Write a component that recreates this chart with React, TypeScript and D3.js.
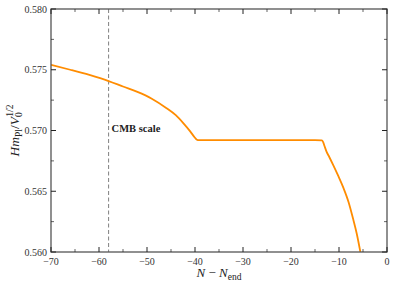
import * as d3 from "d3";
import { useEffect, useRef } from "react";

// values
const nValues = [-70, -66, -62, -58, -55, -52, -49, -46, -44, -42.4, -41, -40.2, -39.6, -39.2, -35, -30, -25, -20, -15, -13.6, -13.3, -13.0, -12.6, -12.0, -11.2, -10.2, -9.1, -8.0, -7.0, -6.3, -5.5];
const hValues = [0.57540, 0.57500, 0.57457, 0.57407, 0.57362, 0.57318, 0.57262, 0.57186, 0.57126, 0.57059, 0.56993, 0.56950, 0.56924, 0.56920, 0.56920, 0.56920, 0.56920, 0.56920, 0.56920, 0.56918, 0.56905, 0.56870, 0.56826, 0.56780, 0.56715, 0.56630, 0.56530, 0.56410, 0.56263, 0.56150, 0.55990];

const xTicks = [-70, -60, -50, -40, -30, -20, -10, 0];
const yTicks = [0.560, 0.565, 0.570, 0.575, 0.580];
const cmbN = -58;
const cmbLabel = "CMB scale";

const width = 395;
const height = 286;
const margin = { top: 9, right: 8, bottom: 34, left: 51 };

export default function App() {
    const ref = useRef<SVGSVGElement>(null);

    useEffect(() => {
        const svg = d3.select(ref.current);
        svg.selectAll("*").remove();

        const x = d3.scaleLinear().domain([-70, 0]).range([margin.left, width - margin.right]);
        const y = d3.scaleLinear().domain([0.56, 0.58]).range([height - margin.bottom, margin.top]);
        const font = "'Liberation Serif', 'DejaVu Serif', serif";

        const clip = svg.append("clipPath").attr("id", "plotclip");
        clip.append("rect")
            .attr("x", x(-70)).attr("y", y(0.58))
            .attr("width", x(0) - x(-70)).attr("height", y(0.56) - y(0.58));

        // cmb line
        svg.append("line")
            .attr("x1", x(cmbN)).attr("x2", x(cmbN))
            .attr("y1", y(0.58)).attr("y2", y(0.56))
            .attr("stroke", "#808080")
            .attr("stroke-width", 1)
            .attr("stroke-dasharray", "4,2.5");

        svg.append("text")
            .attr("x", x(cmbN) + 3).attr("y", y(0.5699))
            .attr("font-family", font)
            .attr("font-size", 10.5)
            .attr("font-weight", "bold")
            .attr("fill", "#222")
            .text(cmbLabel);

        const line = d3.line<number>()
            .x((_, i) => x(nValues[i]))
            .y(d => y(d))
            .curve(d3.curveMonotoneX);

        svg.append("path")
            .datum(hValues)
            .attr("clip-path", "url(#plotclip)")
            .attr("d", line)
            .attr("fill", "none")
            .attr("stroke", "#ff8c00")
            .attr("stroke-width", 1.8);

        // frame
        svg.append("rect")
            .attr("x", x(-70)).attr("y", y(0.58))
            .attr("width", x(0) - x(-70)).attr("height", y(0.56) - y(0.58))
            .attr("fill", "none")
            .attr("stroke", "#555")
            .attr("stroke-width", 1.3);

        const tick = "#222";
        // x ticks major / minor, bottom and top
        d3.range(-70, 1, 5).forEach(v => {
            const major = v % 10 === 0;
            const len = major ? 5 : 3;
            svg.append("line").attr("x1", x(v)).attr("x2", x(v))
                .attr("y1", y(0.56)).attr("y2", y(0.56) - len)
                .attr("stroke", tick).attr("stroke-width", major ? 1 : 0.7);
            svg.append("line").attr("x1", x(v)).attr("x2", x(v))
                .attr("y1", y(0.58)).attr("y2", y(0.58) + len)
                .attr("stroke", tick).attr("stroke-width", major ? 1 : 0.7);
        });
        d3.range(0, 9).map(i => 0.56 + i * 0.0025).forEach((v, i) => {
            const major = i % 2 === 0;
            const len = major ? 5 : 3;
            svg.append("line").attr("x1", x(-70)).attr("x2", x(-70) + len)
                .attr("y1", y(v)).attr("y2", y(v))
                .attr("stroke", tick).attr("stroke-width", major ? 1 : 0.7);
            svg.append("line").attr("x1", x(0)).attr("x2", x(0) - len)
                .attr("y1", y(v)).attr("y2", y(v))
                .attr("stroke", tick).attr("stroke-width", major ? 1 : 0.7);
        });

        svg.append("g").selectAll("text").data(xTicks).enter().append("text")
            .attr("x", d => x(d)).attr("y", y(0.56) + 13)
            .attr("text-anchor", "middle")
            .attr("font-family", font).attr("font-size", 10).attr("fill", "#333")
            .text(d => d === 0 ? "0" : "\u2212" + Math.abs(d));

        svg.append("g").selectAll("text").data(yTicks).enter().append("text")
            .attr("x", x(-70) - 4).attr("y", d => y(d) + 3.5)
            .attr("text-anchor", "end")
            .attr("font-family", font).attr("font-size", 10).attr("fill", "#333")
            .text(d => d.toFixed(3));

        // x label
        const xl = svg.append("text")
            .attr("x", (x(-70) + x(0)) / 2).attr("y", 277)
            .attr("text-anchor", "middle")
            .attr("font-family", font).attr("font-size", 13).attr("fill", "#222");
        xl.append("tspan").attr("font-style", "italic").text("N");
        xl.append("tspan").text(" \u2212 ");
        xl.append("tspan").attr("font-style", "italic").text("N");
        xl.append("tspan").attr("font-size", 9.5).attr("dy", 2.5).text("end");

        // y label
        const yl = svg.append("text")
            .attr("transform", `translate(19, ${(y(0.56) + y(0.58)) / 2}) rotate(-90)`)
            .attr("text-anchor", "middle")
            .attr("font-family", font).attr("font-size", 13.5).attr("fill", "#222");
        yl.append("tspan").attr("font-style", "italic").text("Hm");
        yl.append("tspan").attr("font-size", 9.5).attr("dy", 2.5).text("Pl");
        yl.append("tspan").attr("dy", -2.5).text("/");
        yl.append("tspan").attr("font-style", "italic").text("V");
        yl.append("tspan").attr("font-size", 9.5).attr("dy", 3).text("0");
        yl.append("tspan").attr("font-size", 9.5).attr("dx", -4.5).attr("dy", -9.5).text("1/2");
    }, []);

    return (
        <svg
            ref={ref}
            width={width}
            height={height}
            style={{ position: "absolute", left: 0, top: 0, background: "#fff" }}
        ></svg>
    );
}
